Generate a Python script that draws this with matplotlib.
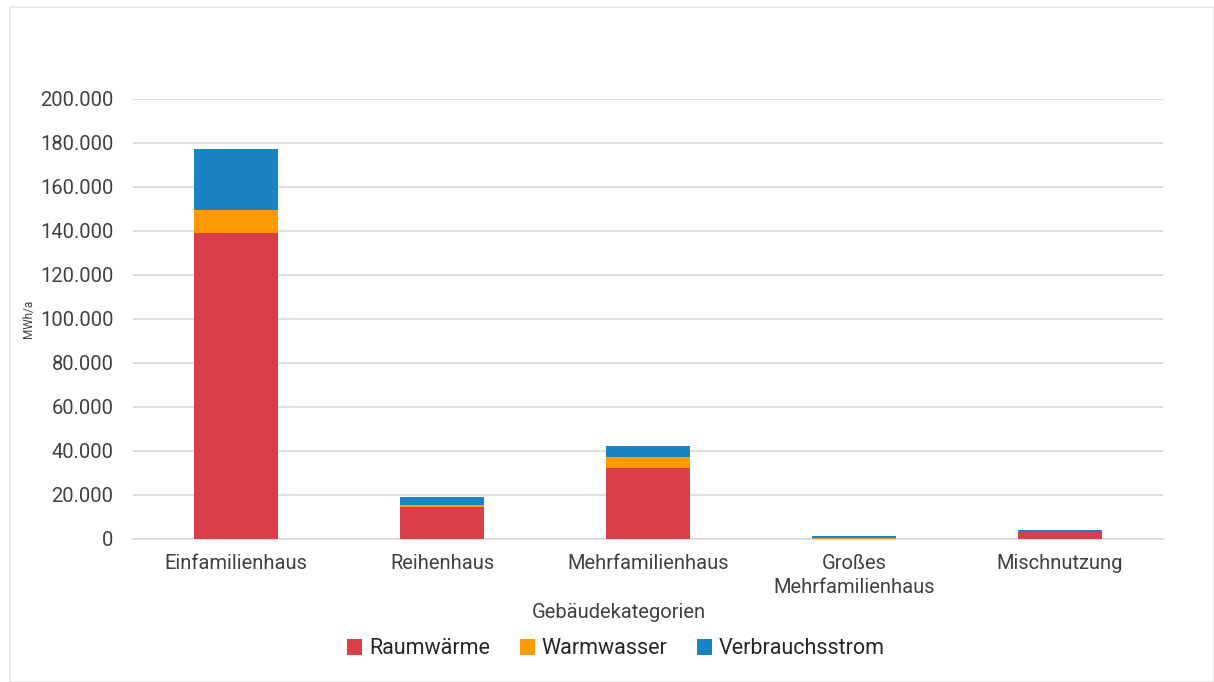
import matplotlib
matplotlib.use("Agg")
import matplotlib.pyplot as plt
import numpy as np
from matplotlib.ticker import FuncFormatter
from matplotlib.patches import Rectangle

categories = ["Einfamilienhaus", "Reihenhaus", "Mehrfamilienhaus", "Großes\nMehrfamilienhaus", "Mischnutzung"]
raumwaerme = [139000, 14400, 32400, 200, 3100]
warmwasser = [10500, 900, 4700, 100, 200]
verbrauchsstrom = [27600, 3700, 5200, 1200, 800]
series_names = ["Raumwärme", "Warmwasser", "Verbrauchsstrom"]
colors = ["#DA3E48", "#FD9A05", "#1A83C1"]

plt.rcParams['font.family'] = ['Roboto', 'DejaVu Sans']

fig = plt.figure(figsize=(12.14, 6.82), dpi=100)
fig.patches.append(Rectangle((10/1214, 0), 1 - 10/1214, 1 - 7/682, transform=fig.transFigure,
                             fill=False, edgecolor="#E6E6E6", linewidth=1.2))
ax = fig.add_axes([133/1214, 1 - 539/682, (1163 - 133)/1214, 440/682])

x = np.arange(len(categories))
w = 0.41
b1 = np.array(raumwaerme)
b2 = b1 + np.array(warmwasser)
ax.bar(x, raumwaerme, w, color=colors[0], label=series_names[0], zorder=3)
ax.bar(x, warmwasser, w, bottom=b1, color=colors[1], label=series_names[1], zorder=3)
ax.bar(x, verbrauchsstrom, w, bottom=b2, color=colors[2], label=series_names[2], zorder=3)

ax.set_xlim(-0.5, len(categories) - 0.5)
ax.set_ylim(0, 200000)
ax.set_yticks(np.arange(0, 200001, 20000))
ax.yaxis.set_major_formatter(FuncFormatter(lambda v, p: f"{int(v):,}".replace(",", ".")))
ax.grid(axis="y", color="#D9D9D9", linewidth=1.2, zorder=0)
for s in ["top", "right", "left"]:
    ax.spines[s].set_visible(False)
ax.spines["bottom"].set_color("#D9D9D9")
ax.spines["bottom"].set_linewidth(1.2)
ax.tick_params(axis="both", length=0, labelsize=14.5, colors="#404040")
ax.tick_params(axis="y", pad=14)
ax.tick_params(axis="x", pad=11)
ax.set_xticks(x)
ax.set_xticklabels(categories, linespacing=1.3)
ax.set_ylabel("MWh/a", fontsize=8.5, color="#404040", labelpad=4)
ax.set_xlabel("Gebäudekategorien", fontsize=14.5, color="#404040")
ax.xaxis.set_label_coords((619 - 133) / 1030, -64/440)

leg = fig.legend(loc="center", bbox_to_anchor=(616/1214, 1 - 649/682), ncol=3, frameon=False,
                 fontsize=15.5, handlelength=0.7, handleheight=0.7, handletextpad=0.3,
                 columnspacing=1.4)
for t in leg.get_texts():
    t.set_color("#262626")

fig.savefig("out.png", dpi=100)
